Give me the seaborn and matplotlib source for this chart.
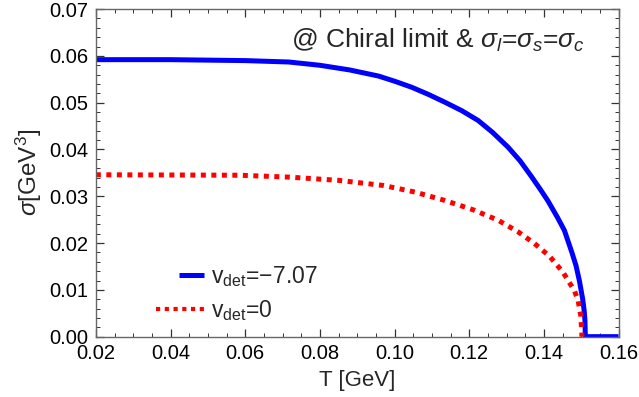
import numpy as np
import pandas as pd
import matplotlib
matplotlib.use("Agg")
import matplotlib.pyplot as plt
import seaborn as sns
from matplotlib.ticker import MultipleLocator, FormatStrFormatter

# data
T_blue = [0.02, 0.04, 0.05, 0.06, 0.0717, 0.08, 0.088, 0.0957, 0.100, 0.1046, 0.109,
          0.1135, 0.118, 0.1224, 0.1262, 0.1304, 0.1336, 0.1366, 0.1392, 0.1411, 0.1437,
          0.1455, 0.1475, 0.1486, 0.1495, 0.1504, 0.1508, 0.1510, 0.1511, 0.16]
s_blue = [0.0592, 0.0592, 0.0591, 0.0590, 0.0587, 0.0580, 0.0570, 0.0557, 0.0546, 0.0533,
          0.0518, 0.0501, 0.0483, 0.0462, 0.0437, 0.0405, 0.0376, 0.0343, 0.0313, 0.0290,
          0.0254, 0.0227, 0.0180, 0.0152, 0.0120, 0.0080, 0.0055, 0.0035, 0.0, 0.0]
T_red = [0.02, 0.0584, 0.0717, 0.0851, 0.0971, 0.1055, 0.1135, 0.1211, 0.1277, 0.1331,
         0.1375, 0.1415, 0.1451, 0.1468, 0.1482, 0.1492, 0.1499, 0.1502]
s_red = [0.0346, 0.0345, 0.0341, 0.0334, 0.0323, 0.0309, 0.0291, 0.0271, 0.0249, 0.0224,
         0.0199, 0.0172, 0.0138, 0.0116, 0.0098, 0.0076, 0.0044, 0.0]
labels = [r"v$_{\rm det}$=−7.07", r"v$_{\rm det}$=0"]

sns.set_style("ticks")
plt.rcParams["font.family"] = ["Liberation Sans", "DejaVu Sans"]
plt.rcParams["mathtext.fontset"] = "custom"
plt.rcParams["mathtext.rm"] = "Liberation Sans"
plt.rcParams["mathtext.it"] = "Liberation Sans:italic"
plt.rcParams["mathtext.bf"] = "Liberation Sans:bold"

fig = plt.figure(figsize=(6.39, 3.97), dpi=100)
ax = fig.add_axes([0.150, 0.152, 0.818, 0.825])

df_b = pd.DataFrame({"T": T_blue, "s": s_blue})
df_r = pd.DataFrame({"T": T_red, "s": s_red})
sns.lineplot(data=df_b, x="T", y="s", ax=ax, color="#0000ff", lw=3.6,
             sort=False, estimator=None, label=labels[0],
             solid_capstyle="butt", solid_joinstyle="round")
sns.lineplot(data=df_r, x="T", y="s", ax=ax, color="#ff0000", lw=3.6,
             sort=False, estimator=None, label=labels[1], linestyle=(0, (1, 1.1)))

ax.set_xlim(0.02, 0.16)
ax.set_ylim(0.0, 0.07)
ax.xaxis.set_major_locator(MultipleLocator(0.02))
ax.xaxis.set_minor_locator(MultipleLocator(0.005))
ax.yaxis.set_major_locator(MultipleLocator(0.01))
ax.yaxis.set_minor_locator(MultipleLocator(0.002))
ax.xaxis.set_major_formatter(FormatStrFormatter("%.2f"))
ax.yaxis.set_major_formatter(FormatStrFormatter("%.2f"))
ax.tick_params(which="both", direction="in", top=True, right=True, bottom=True, left=True,
               color="#333333", labelsize=14.5, labelcolor="black")
ax.tick_params(which="major", length=6, width=0.9)
ax.tick_params(which="minor", length=3, width=0.7)
ax.tick_params(axis="x", pad=5.5)
ax.tick_params(axis="y", pad=5.5)
for sp in ax.spines.values():
    sp.set_color("#666666")
    sp.set_linewidth(1.0)

ax.set_xlabel("T [GeV]", fontsize=16, labelpad=5)
ax.set_ylabel(r"$\sigma$[GeV$^3$]", fontsize=17.5, labelpad=4)

ax.text(0.936, 0.905, r"@ Chiral limit & $\sigma_l$=$\sigma_s$=$\sigma_c$",
        transform=ax.transAxes, ha="right", va="center", fontsize=19)

leg = ax.legend(loc="lower left", bbox_to_anchor=(0.075, -0.02), frameon=False,
                fontsize=16.5, handlelength=2.1, handletextpad=0.3, labelspacing=0.4)
hl = leg.get_lines()
xr = np.asarray(hl[1].get_xdata(), dtype=float)
yb = np.asarray(hl[0].get_ydata(), dtype=float)
xa, xz = xr.min(), xr.max()
hl[0].set_data([xa + (xz - xa) * 0.48, xz], [yb[0], yb[0]])
hl[1].set_linewidth(3.0)

fig.savefig("out.png", dpi=100)
